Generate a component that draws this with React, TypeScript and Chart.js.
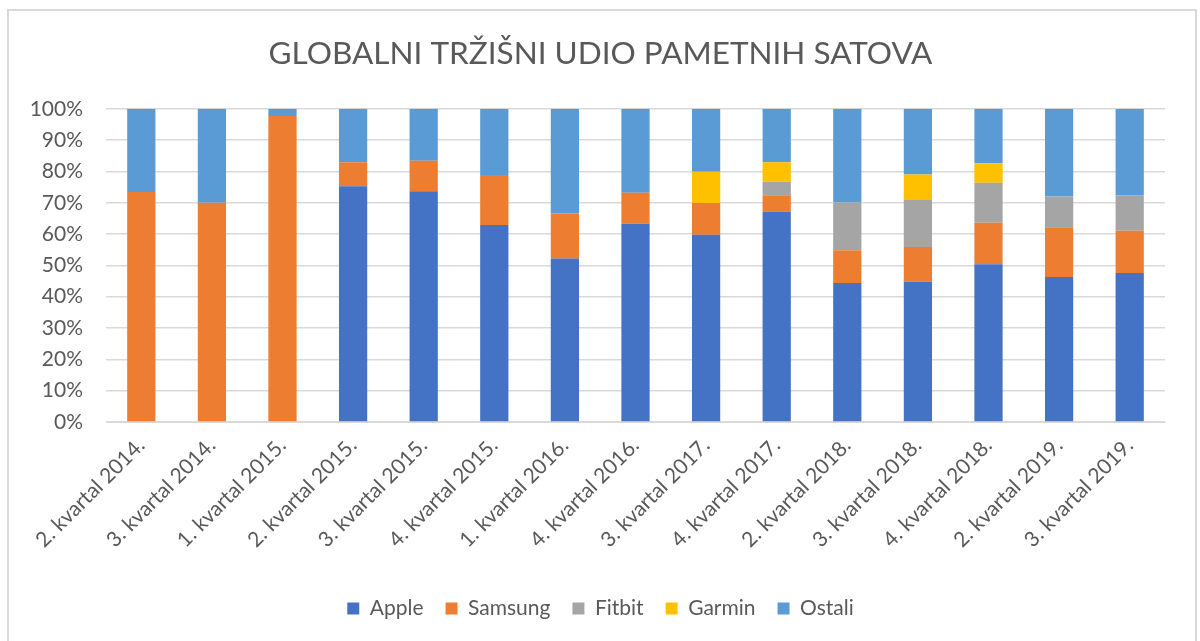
import React, { useEffect, useRef } from "react";
import { Chart, registerables } from "chart.js";

Chart.register(...registerables);

const categories = [
  "2. kvartal 2014.",
  "3. kvartal 2014.",
  "1. kvartal 2015.",
  "2. kvartal 2015.",
  "3. kvartal 2015.",
  "4. kvartal 2015.",
  "1. kvartal 2016.",
  "4. kvartal 2016.",
  "3. kvartal 2017.",
  "4. kvartal 2017.",
  "2. kvartal 2018.",
  "3. kvartal 2018.",
  "4. kvartal 2018.",
  "2. kvartal 2019.",
  "3. kvartal 2019.",
];

const apple = [0, 0, 0, 75.3, 73.7, 62.9, 52.2, 63.3, 59.8, 67.1, 44.4, 44.8, 50.4, 46.3, 47.6];
const samsung = [73.4, 70.0, 97.7, 7.6, 9.7, 16.0, 14.4, 9.9, 10.1, 5.3, 10.4, 11.1, 13.2, 15.9, 13.5];
const fitbit = [0, 0, 0, 0, 0, 0, 0, 0, 0, 4.3, 15.3, 15.0, 12.8, 9.8, 11.3];
const garmin = [0, 0, 0, 0, 0, 0, 0, 0, 10.0, 6.2, 0, 8.1, 6.2, 0, 0];
const ostali = [26.6, 30.0, 2.3, 17.1, 16.6, 21.1, 33.4, 26.8, 20.1, 17.1, 29.9, 21.0, 17.4, 28.0, 27.6];

const yTicks = [0, 10, 20, 30, 40, 50, 60, 70, 80, 90, 100];

const FONT = "Lato, 'Open Sans', sans-serif";
const TEXT = "#595959";

export default function App() {
  const ref = useRef<HTMLCanvasElement | null>(null);

  useEffect(() => {
    if (!ref.current) return;
    const ds = (label: string, data: number[], color: string) => ({
      label,
      data,
      backgroundColor: color,
      borderWidth: 0,
      barPercentage: 0.4,
      categoryPercentage: 1,
    });
    const chart = new Chart(ref.current, {
      type: "bar",
      data: {
        labels: categories,
        datasets: [
          ds("Apple", apple, "#4472C4"),
          ds("Samsung", samsung, "#ED7D31"),
          ds("Fitbit", fitbit, "#A5A5A5"),
          ds("Garmin", garmin, "#FFC000"),
          ds("Ostali", ostali, "#5B9BD5"),
        ],
      },
      options: {
        animation: false,
        responsive: false,
        maintainAspectRatio: false,
        layout: { padding: { left: 0, right: 0, top: 14, bottom: 14 } },
        plugins: {
          title: {
            display: true,
            text: "GLOBALNI TRŽIŠNI UDIO PAMETNIH SATOVA",
            color: TEXT,
            font: { family: FONT, size: 31.5, weight: "normal" },
            padding: { top: 10, bottom: 36 },
          },
          legend: {
            position: "bottom",
            labels: {
              color: TEXT,
              font: { family: FONT, size: 21 },
              boxWidth: 12,
              boxHeight: 12,
              padding: 22,
            },
          },
          tooltip: { enabled: false },
        },
        scales: {
          x: {
            stacked: true,
            grid: { display: false },
            border: { display: true, color: "#D9D9D9" },
            afterFit: (axis: any) => {
              axis.height = 154;
            },
            ticks: {
              color: TEXT,
              font: { family: FONT, size: 21 },
              minRotation: 45,
              maxRotation: 45,
              autoSkip: false,
            },
          },
          y: {
            stacked: true,
            min: 0,
            max: 100,
            afterBuildTicks: (axis: any) => {
              axis.ticks = yTicks.map((v) => ({ value: v }));
            },
            afterFit: (axis: any) => {
              axis.width = 80;
            },
            grid: { color: "#D9D9D9", lineWidth: 1.5, drawTicks: false },
            border: { display: false },
            ticks: {
              color: TEXT,
              font: { family: FONT, size: 21 },
              padding: 23,
              callback: (v: any) => v + "%",
            },
          },
          yRight: {
            type: "linear",
            position: "right",
            display: true,
            min: 0,
            max: 100,
            grid: { display: false, drawTicks: false },
            border: { display: false },
            ticks: { display: false },
            afterFit: (axis: any) => {
              axis.width = 10;
            },
          },
        },
      },
    });
    return () => chart.destroy();
  }, []);

  return (
    <div style={{ position: "fixed", left: 0, top: 0, width: 1200, height: 641, background: "#fff" }}>
      <div
        style={{
          position: "absolute",
          left: 7,
          top: 9,
          width: 1186,
          height: 640,
          border: "2px solid #D9D9D9",
        }}
      />
      <canvas
        ref={ref}
        width={1149}
        height={632}
        style={{ display: "block", position: "absolute", left: 26, top: 11 }}
      />
    </div>
  );
}
